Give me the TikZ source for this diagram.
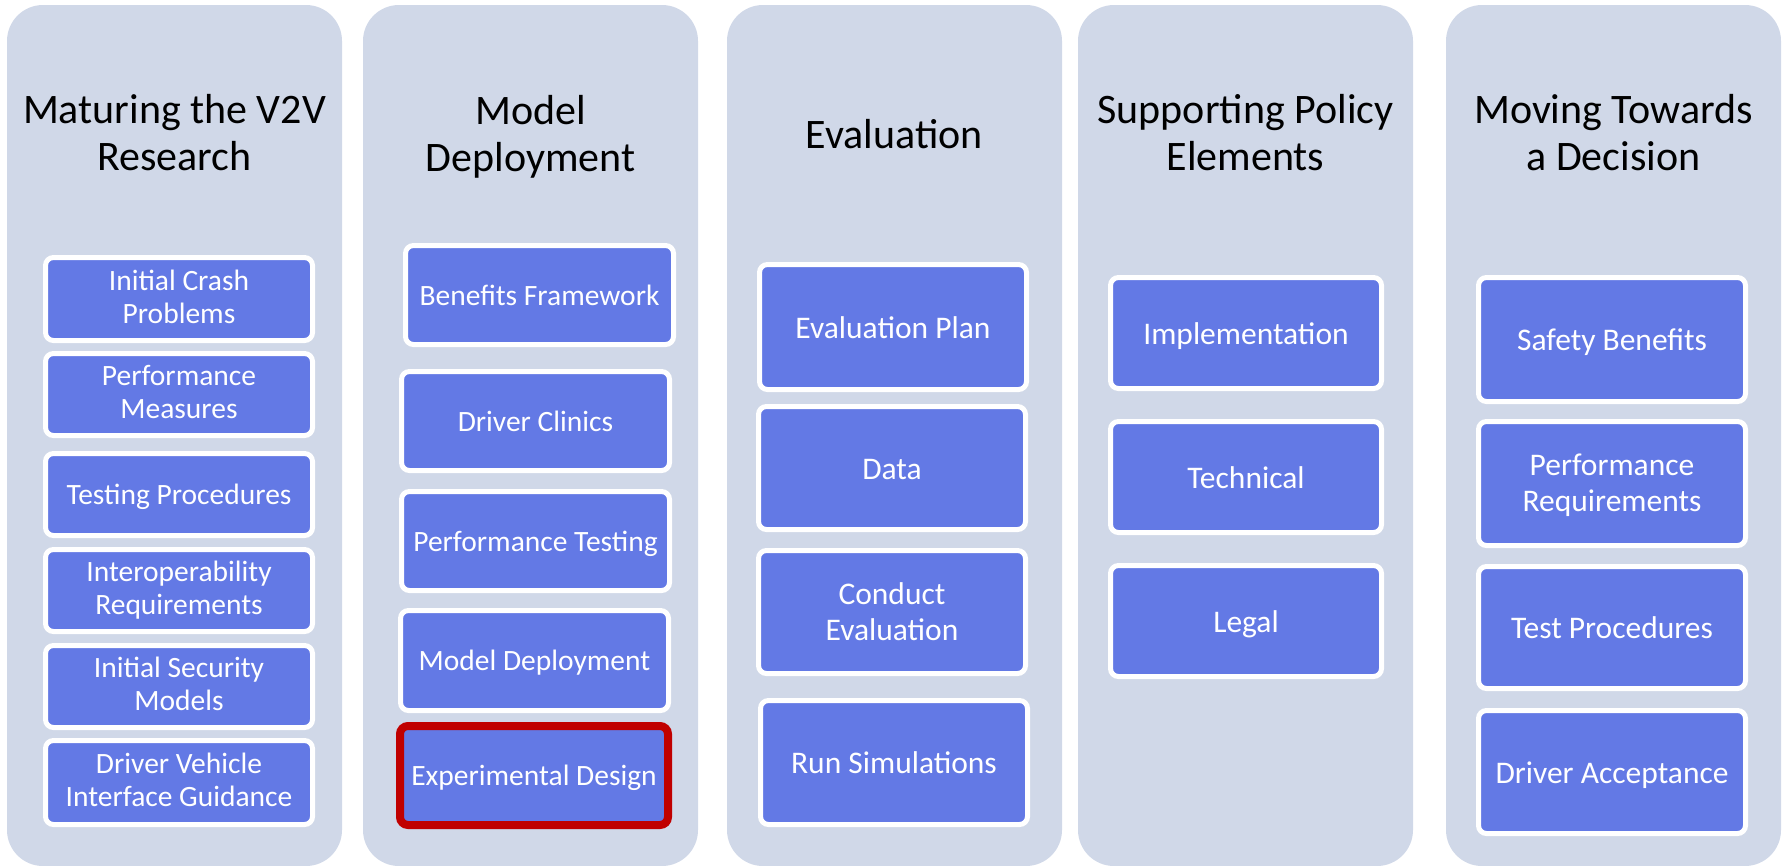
\documentclass[tikz,border=0pt]{standalone}
\usepackage{fontspec}
\setmainfont{Carlito}
\definecolor{colbg}{RGB}{208,216,232}
\definecolor{boxblue}{RGB}{99,121,229}
\definecolor{hilite}{RGB}{192,0,0}
\newcommand\mytopstrut[1]{\rule{0pt}{#1em}}
\begin{document}
\begin{tikzpicture}[x=1pt,y=-1pt,
  column/.style={fill=colbg, rounded corners=36pt},
  title/.style={font=\fontsize{42}{47}\selectfont, align=center, text=black, inner sep=0pt},
  item/.style={draw=white, line width=5pt, fill=boxblue, rounded corners=8pt, text=white,
    align=center, inner sep=0pt, font=\fontsize{29.5}{33}\selectfont,
    execute at begin node={\rule{0pt}{0.95em}},
    execute at end node={\rule[-0.25em]{0pt}{0pt}}},
  itemb/.style={item, font=\fontsize{31.5}{36}\selectfont,
    execute at begin node={\rule{0pt}{0.97em}}},
  highlight/.style={draw=hilite, line width=8pt},
  sz/.style 2 args={minimum width=#1pt, minimum height=#2pt}
]
\useasboundingbox (0,0) rectangle (1785,865);

% columns
\fill[column] (7,5) rectangle (342,866);
\fill[column] (363,5) rectangle (698,866);
\fill[column] (727,5) rectangle (1062,866);
\fill[column] (1078,5) rectangle (1413,866);
\fill[column] (1446,5) rectangle (1781,866);

% titles
\node[title] (t1) at (174.5,132.5) {Maturing the V2V\\Research};
\node[title] (t2) at (530.5,137) {Model\\Deployment};
\node[title] (t3) at (894.5,134) {Evaluation};
\node[title] (t4) at (1245.5,133) {Supporting Policy\\Elements};
\node[title] (t5) at (1613.5,132.5) {Moving Towards\\a Decision};

% column 1
\node[item, sz={267}{83}] (a1) at (179,299) {\mytopstrut{0.78}Initial Crash\\Problems};
\node[item, sz={267}{82}] (a2) at (179,394.5) {\mytopstrut{0.78}Performance\\Measures};
\node[item, sz={267}{82}] (a3) at (179,494.5) {Testing Procedures};
\node[item, sz={267}{82}] (a4) at (179,590.5) {\mytopstrut{0.78}Interoperability\\Requirements};
\node[item, sz={267}{82}] (a5) at (179,686.5) {\mytopstrut{0.78}Initial Security\\Models};
\node[item, sz={267}{84}] (a6) at (179,782.5) {\mytopstrut{0.78}Driver Vehicle\\Interface Guidance};

% column 2
\node[item, sz={268}{99}] (b1) at (539.5,295) {Benefits Framework};
\node[item, sz={268}{99}] (b2) at (535.5,421) {Driver Clinics};
\node[item, sz={268}{99}] (b3) at (535.5,541) {Performance Testing};
\node[item, sz={268}{100}] (b4) at (534.5,660.5) {Model Deployment};
\node[item, highlight, sz={268}{99}] (b5) at (534,775.5) {Experimental Design};

% column 3
\node[itemb, sz={267}{125}] (c1) at (893,327) {Evaluation Plan};
\node[itemb, sz={267}{123}] (c2) at (892,468) {Data};
\node[itemb, sz={267}{123}] (c3) at (892,612) {\mytopstrut{0.9}Conduct\\Evaluation};
\node[itemb, sz={267}{124}] (c4) at (894,762.5) {Run Simulations};

% column 4
\node[itemb, sz={271}{111}] (d1) at (1246,333) {Implementation};
\node[itemb, sz={271}{111}] (d2) at (1246,477) {Technical};
\node[itemb, sz={271}{111}] (d3) at (1246,621) {Legal};

% column 5
\node[itemb, sz={267}{124}] (e1) at (1612,339.5) {Safety Benefits};
\node[itemb, sz={267}{124}] (e2) at (1612,483.5) {\mytopstrut{0.9}Performance\\Requirements};
\node[itemb, sz={267}{122}] (e3) at (1612,627.5) {Test Procedures};
\node[itemb, sz={267}{123}] (e4) at (1612,772) {Driver Acceptance};
\end{tikzpicture}
\end{document}
